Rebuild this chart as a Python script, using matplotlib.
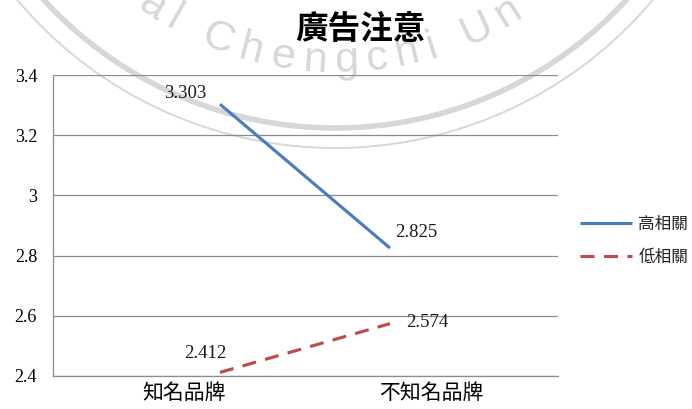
import numpy as np
import matplotlib
matplotlib.use("Agg")
import matplotlib.pyplot as plt
from matplotlib.patches import Circle
from matplotlib.font_manager import FontProperties
from matplotlib.textpath import TextToPath

# data
brands = ["知名品牌", "不知名品牌"]
high_rel = [3.303, 2.825]
low_rel = [2.412, 2.574]
series_names = ["高相關", "低相關"]
y_ticks = [2.4, 2.6, 2.8, 3.0, 3.2, 3.4]
y_tick_labels = ["2.4", "2.6", "2.8", "3", "3.2", "3.4"]

W, H = 692, 409
fig = plt.figure(figsize=(W / 100, H / 100), dpi=100)

cjk = ["Noto Sans CJK TC", "DejaVu Sans"]
serif = ["Liberation Serif", "DejaVu Serif"]

# ---- faint seal in the background ----
wm_col = "#d7d7d7"
cx, cy = 335, -267          # seal centre, pixels from top-left
for r, lw in [(395, 4.0), (415, 1.4)]:
    fig.add_artist(Circle((cx, H - cy), r, transform=None, fill=False,
                          ec=wm_col, lw=lw, zorder=-2))

wm_text = "National Chengchi University"
wm_fp = FontProperties(family="Liberation Sans", size=31)
t2p = TextToPath()
adv = []
for ch in wm_text:
    if ch == " ":
        adv.append(0.28 * 43)
    else:
        w, _, _ = t2p.get_text_width_height_descent(ch, wm_fp, ismath=False)
        adv.append(w * 100 / 72)
adv = np.array(adv) + 9.0
centres = np.cumsum(adv) - adv / 2
r_base = 339
k = wm_text.index("C")
phi_c = np.arcsin((214 - cx) / r_base)
for ch, s in zip(wm_text, centres):
    phi = phi_c + (s - centres[k]) / r_base
    px = cx + r_base * np.sin(phi)
    py = cy + r_base * np.cos(phi)
    if ch == " " or py < 8:
        continue
    fig.text(px / W, 1 - py / H, ch, rotation=np.degrees(phi),
             rotation_mode="anchor", ha="center", va="baseline",
             fontproperties=wm_fp, color=wm_col, zorder=-1)

# ---- chart ----
ax = fig.add_axes([53 / W, 1 - 376 / H, (558 - 53) / W, (376 - 75) / H])
ax.set_facecolor("none")

x = np.arange(len(brands))
ax.plot(x, high_rel, color="#4a7ebb", lw=2.25, solid_capstyle="butt",
        label=series_names[0], zorder=3)
ax.plot(x, low_rel, color="#be4b48", lw=2.25, dashes=(4.5, 3),
        dash_capstyle="butt", label=series_names[1], zorder=3)

lo, hi = -0.982, 1.988
ax.set_xlim(lo, hi)
ax.set_ylim(2.4, 3.4)
ax.set_xticks(lo + (hi - lo) * np.array([0.26, 0.75]))
ax.set_xticklabels(brands, fontfamily=cjk, fontsize=15)
ax.set_yticks(y_ticks)
ax.set_yticklabels(y_tick_labels, fontfamily=serif, fontsize=13)
ax.tick_params(axis="both", length=0)
ax.tick_params(axis="y", pad=11.5)
ax.tick_params(axis="x", pad=4)

ax.grid(axis="y", color="#8c8c8c", lw=0.9)
ax.set_axisbelow(True)
for side in ["top", "right"]:
    ax.spines[side].set_visible(False)
for side in ["left", "bottom"]:
    ax.spines[side].set_color("#8c8c8c")
    ax.spines[side].set_linewidth(0.9)

# value labels
offsets = {(0, 0): (-35, 11), (0, 1): (26, 16), (1, 0): (-15, 19), (1, 1): (37, 1)}
for si, vals in enumerate([high_rel, low_rel]):
    for ci, v in enumerate(vals):
        ax.annotate(f"{v:.3f}", (x[ci], v), xytext=offsets[(si, ci)],
                    textcoords="offset pixels", ha="center", va="center",
                    fontfamily=serif, fontsize=13.5, color="#1a1a1a")

fig.text(360 / W, 1 - 30 / H, "廣告注意", ha="center", va="center",
         fontfamily=cjk, fontsize=23.5, fontweight="bold")

leg = ax.legend(loc="center left", bbox_to_anchor=(580 / W, 1 - 241 / H),
                bbox_transform=fig.transFigure, frameon=False,
                prop=FontProperties(family=cjk, size=12), handlelength=3.1,
                handletextpad=0.4, borderpad=0, borderaxespad=0,
                labelspacing=0.95)
for t in leg.get_texts():
    t.set_color("#222222")

fig.savefig("out.png", dpi=100)
